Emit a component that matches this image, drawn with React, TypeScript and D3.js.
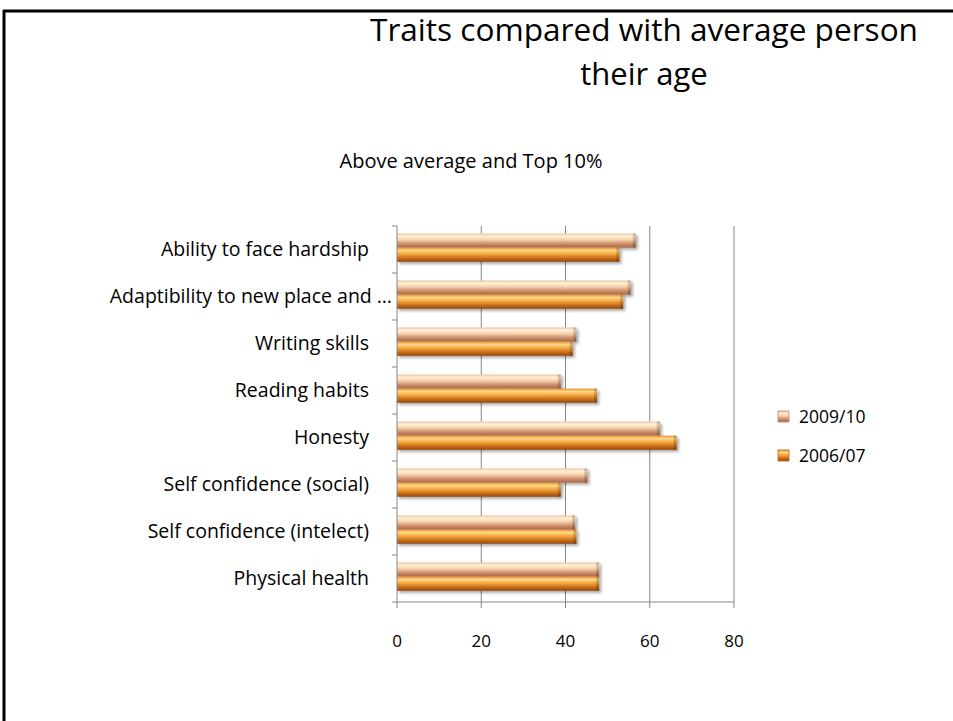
import React from "react";
import * as d3 from "d3";

const categories = [
  "Ability to face hardship",
  "Adaptibility to new place and …",
  "Writing skills",
  "Reading habits",
  "Honesty",
  "Self confidence (social)",
  "Self confidence (intelect)",
  "Physical health",
];
const seriesNames = ["2009/10", "2006/07"];
const values2009 = [56.7, 55.5, 42.6, 38.9, 62.4, 45.2, 42.3, 48];
const values2006 = [52.8, 53.7, 41.7, 47.5, 66.4, 38.9, 42.6, 48];
const xTicks = [0, 20, 40, 60, 80];

const W = 953;
const H = 721;
const FONT = "'Open Sans', Lato, sans-serif";

export default function App() {
  const plotLeft = 397;
  const plotRight = 734;
  const plotTop = 226;
  const plotBottom = 602;

  const x = d3.scaleLinear().domain([0, 80]).range([plotLeft, plotRight]);
  const y = d3.scaleBand<string>().domain(categories).range([plotTop, plotBottom]);
  const inner = d3
    .scaleBand<string>()
    .domain(seriesNames)
    .range([0, y.bandwidth()])
    .paddingInner(0)
    .paddingOuter(0.66)
    .align(0.4);

  const seriesVals = [values2009, values2006];
  const grads = ["g2009", "g2006"];

  return (
    <svg width={W} height={H} style={{ position: "absolute", left: 0, top: 0 }}>
      <defs>
        <linearGradient id="g2009" x1="0" y1="0" x2="0" y2="1">
          <stop offset="0" stopColor="#f3c3a0" />
          <stop offset="0.2" stopColor="#fff1d8" />
          <stop offset="0.45" stopColor="#f6cfa8" />
          <stop offset="0.75" stopColor="#c98a68" />
          <stop offset="1" stopColor="#a8684a" />
        </linearGradient>
        <linearGradient id="g2006" x1="0" y1="0" x2="0" y2="1">
          <stop offset="0" stopColor="#e8902a" />
          <stop offset="0.2" stopColor="#ffd889" />
          <stop offset="0.45" stopColor="#f5a93d" />
          <stop offset="0.75" stopColor="#c86d1a" />
          <stop offset="1" stopColor="#8f4a10" />
        </linearGradient>
        <filter id="shadow" x="-5%" y="-30%" width="110%" height="170%">
          <feGaussianBlur in="SourceAlpha" stdDeviation="1.5" />
          <feOffset dx="2" dy="2" result="b" />
          <feComponentTransfer>
            <feFuncA type="linear" slope="0.35" />
          </feComponentTransfer>
          <feMerge>
            <feMergeNode />
            <feMergeNode in="SourceGraphic" />
          </feMerge>
        </filter>
      </defs>
      <rect x={0} y={0} width={W} height={H} fill="#fff" />
      {/* frame */}
      <line x1={3} y1={11} x2={W} y2={11} stroke="#000" strokeWidth={3} />
      <line x1={4} y1={10} x2={4} y2={H} stroke="#000" strokeWidth={3} />

      {/* titles */}
      <text x={644} y={41} textAnchor="middle" fontFamily={FONT} fontSize={31} fill="#000" textLength={548} lengthAdjust="spacingAndGlyphs">
        Traits compared with average person
      </text>
      <text x={644} y={85} textAnchor="middle" fontFamily={FONT} fontSize={31} fill="#000">
        their age
      </text>
      <text x={471} y={168} textAnchor="middle" fontFamily={FONT} fontSize={20} fill="#000">
        Above average and Top 10%
      </text>

      {/* gridlines */}
      {xTicks.slice(1).map((t) => (
        <line key={t} x1={x(t)} x2={x(t)} y1={plotTop} y2={plotBottom} stroke="#868686" strokeWidth={1} />
      ))}

      {/* bars */}
      {categories.map((c, i) => (
        <g key={c}>
          {seriesNames.map((s, k) => {
            const by = (y(c) as number) + (inner(s) as number);
            const bh = inner.bandwidth();
            const bw = x(seriesVals[k][i]) - x(0);
            return (
              <g key={s} filter="url(#shadow)">
                <rect x={x(0)} y={by} width={bw} height={bh} fill={`url(#${grads[k]})`} />
                <rect x={x(0) + bw - 3} y={by} width={3} height={bh} fill="#000" opacity={0.18} />
              </g>
            );
          })}
        </g>
      ))}

      {/* axes */}
      <line x1={plotLeft} x2={plotLeft} y1={plotTop} y2={plotBottom} stroke="#868686" strokeWidth={1} />
      {d3.range(categories.length + 1).map((i) => {
        const yy = plotTop + i * y.step();
        return <line key={i} x1={plotLeft - 5} x2={plotLeft} y1={yy} y2={yy} stroke="#868686" />;
      })}
      <line x1={plotLeft} x2={plotRight} y1={plotBottom} y2={plotBottom} stroke="#868686" strokeWidth={1} />
      {xTicks.map((t) => (
        <g key={t}>
          <line x1={x(t)} x2={x(t)} y1={plotBottom} y2={plotBottom + 6} stroke="#868686" />
          <text x={x(t)} y={647} textAnchor="middle" fontFamily={FONT} fontSize={17} fill="#000">
            {t}
          </text>
        </g>
      ))}
      {categories.map((c) => (
        <text
          key={c}
          x={c.endsWith("…") ? 392 : 369}
          y={(y(c) as number) + y.bandwidth() / 2 + 6}
          textAnchor="end"
          fontFamily={FONT}
          fontSize={19.5}
          fill="#000"
        >
          {c}
        </text>
      ))}

      {/* legend */}
      {seriesNames.map((s, k) => (
        <g key={s}>
          <rect x={778} y={411 + k * 39} width={11} height={11} fill={`url(#${grads[k]})`} stroke={k ? "#b86a1e" : "#c08a70"} strokeWidth={0.8} />
          <text x={799} y={423 + k * 39} fontFamily={FONT} fontSize={17.5} fill="#000">
            {s}
          </text>
        </g>
      ))}
    </svg>
  );
}
